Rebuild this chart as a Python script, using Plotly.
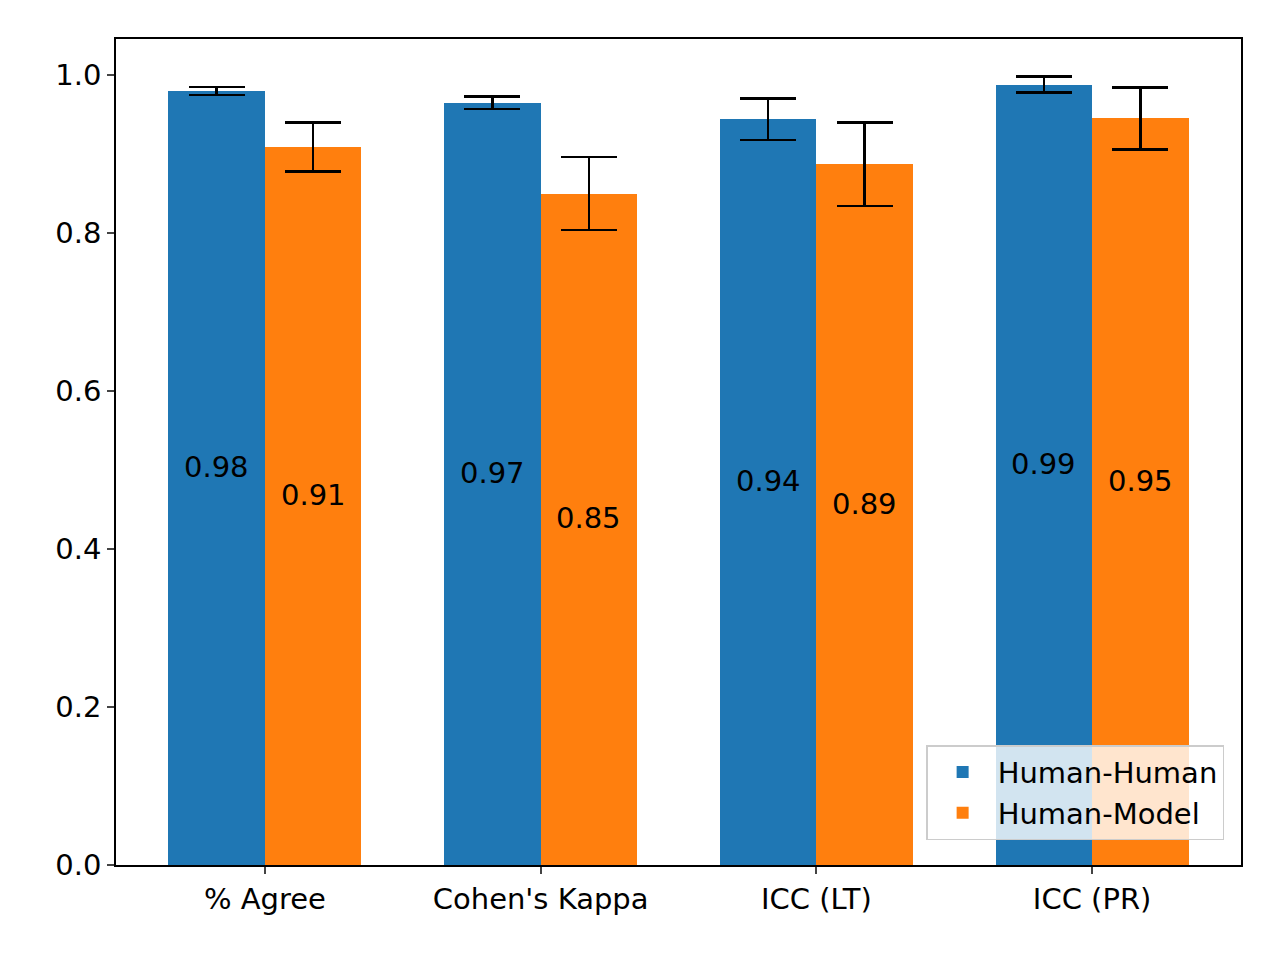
import plotly.graph_objects as go

categories = ["% Agree", "Cohen's Kappa", "ICC (LT)", "ICC (PR)"]
human_human = [0.980, 0.965, 0.944, 0.988]
human_human_err = [0.005, 0.008, 0.026, 0.010]
human_model = [0.909, 0.850, 0.887, 0.945]
human_model_err = [0.031, 0.046, 0.053, 0.039]
labels_hh = ["0.98", "0.97", "0.94", "0.99"]
labels_hm = ["0.91", "0.85", "0.89", "0.95"]

w = 0.35
xs = list(range(len(categories)))
x_hh = [x - w / 2 for x in xs]
x_hm = [x + w / 2 for x in xs]

fig = go.Figure()
fig.add_trace(go.Bar(x=x_hh, y=human_human, width=w, name="Human-Human", marker_color="#1f77b4",
                     marker_line_width=0,
                     error_y=dict(type="data", array=human_human_err, color="black", thickness=2.5, width=28)))
fig.add_trace(go.Bar(x=x_hm, y=human_model, width=w, name="Human-Model", marker_color="#ff7f0e",
                     marker_line_width=0,
                     error_y=dict(type="data", array=human_model_err, color="black", thickness=2.5, width=28)))

for xp, v, t in list(zip(x_hh, human_human, labels_hh)) + list(zip(x_hm, human_model, labels_hm)):
    fig.add_annotation(x=xp, y=v / 2, text=t, showarrow=False, yanchor="bottom", yshift=-8,
                       font=dict(size=29, color="black"))

fig.update_layout(
    width=1280, height=960, plot_bgcolor="white", paper_bgcolor="white",
    margin=dict(l=108, r=47, t=31, b=103),
    font=dict(family="DejaVu Sans", size=29, color="black"),
    barmode="overlay", bargap=0,
    legend=dict(x=0.985, y=0.03, xanchor="right", yanchor="bottom", bgcolor="rgba(255,255,255,0.8)",
                bordercolor="#cccccc", borderwidth=1.5, font=dict(size=29), itemwidth=60),
)
fig.update_xaxes(range=[-0.54, 3.54], tickvals=xs, ticktext=categories, showline=True, linecolor="black",
                 linewidth=1.5, mirror=True, ticks="outside", ticklen=7, tickwidth=1.5, showgrid=False)
fig.update_yaxes(range=[0, 1.0456], tickvals=[0, 0.2, 0.4, 0.6, 0.8, 1.0], tickformat=".1f", showline=True,
                 linecolor="black", linewidth=1.5, mirror=True, ticks="outside", ticklen=7, tickwidth=1.5,
                 showgrid=False, zeroline=False)

fig.write_html("out.html")
